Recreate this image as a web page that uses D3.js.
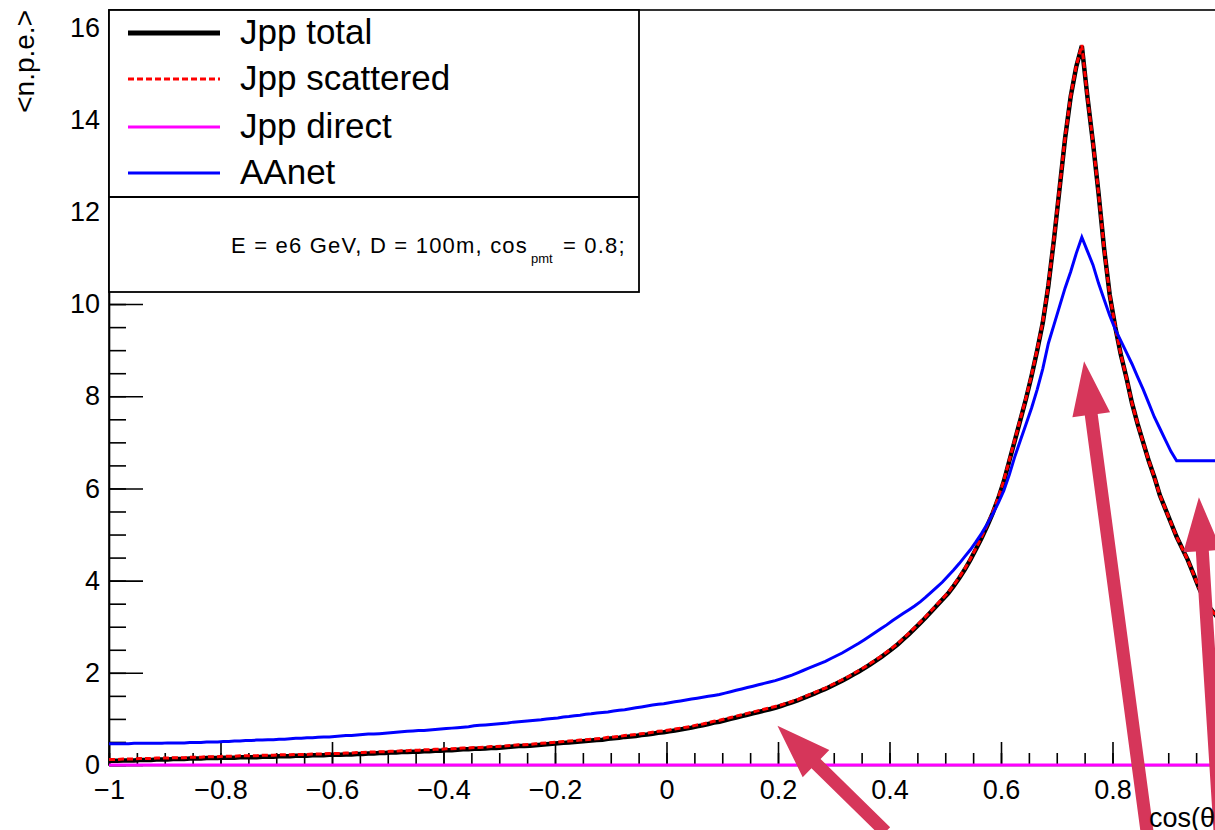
<!DOCTYPE html>
<html>
<head>
<meta charset="utf-8">
<script src="https://cdn.jsdelivr.net/npm/d3@7"></script>
<style>
  html, body { margin: 0; padding: 0; background: #fff; }
  svg { display: block; font-family: "Liberation Sans", Arial, Helvetica, sans-serif; }
</style>
</head>
<body>
<svg id="chart" width="1215" height="830"></svg>
<script>
// ---------------- data ----------------
const binLow = -1.0;
const binWidth = 0.01;   // 200 bins over [-1, 1]

const jppTotal = [
  .09,.09,.10,.10,.10,.11,.11,.11,.12,.12,
  .12,.13,.13,.13,.14,.14,.14,.15,.15,.15,
  .16,.16,.16,.17,.17,.17,.17,.18,.18,.18,
  .19,.19,.19,.20,.20,.20,.21,.21,.21,.22,
  .22,.22,.23,.23,.24,.24,.25,.25,.26,.26,
  .27,.27,.28,.28,.29,.29,.30,.30,.31,.31,
  .32,.32,.33,.34,.34,.35,.35,.36,.37,.37,
  .38,.39,.40,.41,.41,.42,.43,.44,.45,.46,
  .47,.48,.49,.50,.51,.52,.53,.54,.55,.57,
  .58,.59,.61,.62,.63,.65,.66,.68,.70,.71,
  .73,.75,.77,.79,.81,.84,.86,.89,.92,.94,
  .97,1.00,1.03,1.06,1.09,1.12,1.15,1.18,1.21,1.24,
  1.28,1.32,1.36,1.40,1.45,1.50,1.55,1.60,1.65,1.71,
  1.77,1.83,1.89,1.96,2.03,2.10,2.18,2.26,2.34,2.43,
  2.52,2.62,2.73,2.84,2.96,3.08,3.20,3.33,3.46,3.59,
  3.72,3.88,4.05,4.24,4.45,4.68,4.92,5.18,5.46,5.78,
  6.15,6.60,7.05,7.50,7.95,8.45,9.00,9.60,10.40,11.40,
  12.50,13.60,14.50,15.15,15.60,14.50,13.50,12.40,11.20,10.20,
  9.50,8.90,8.40,7.85,7.40,7.00,6.60,6.25,5.85,5.55,
  5.25,4.95,4.70,4.45,4.15,3.85,3.58,3.40,3.25,3.10
];

const jppScattered = [
  .12,.12,.13,.13,.13,.14,.14,.14,.15,.15,
  .15,.16,.16,.16,.17,.17,.17,.18,.18,.18,
  .19,.19,.19,.20,.20,.20,.20,.21,.21,.21,
  .22,.22,.22,.23,.23,.23,.24,.24,.24,.25,
  .25,.25,.26,.26,.27,.27,.28,.28,.29,.29,
  .30,.30,.31,.31,.32,.32,.33,.33,.34,.34,
  .35,.35,.36,.37,.37,.38,.38,.39,.40,.40,
  .41,.42,.43,.44,.44,.45,.46,.47,.48,.49,
  .50,.51,.52,.53,.54,.55,.56,.57,.58,.60,
  .61,.62,.64,.65,.66,.68,.69,.71,.73,.74,
  .76,.78,.80,.82,.84,.87,.89,.92,.95,.97,
  1.00,1.03,1.06,1.09,1.12,1.15,1.18,1.21,1.24,1.27,
  1.30,1.34,1.38,1.42,1.47,1.52,1.57,1.62,1.67,1.73,
  1.79,1.85,1.91,1.98,2.05,2.12,2.20,2.28,2.36,2.45,
  2.54,2.64,2.75,2.86,2.98,3.10,3.22,3.35,3.48,3.61,
  3.74,3.90,4.07,4.26,4.47,4.70,4.94,5.20,5.48,5.80,
  6.17,6.62,7.07,7.52,7.97,8.47,9.02,9.62,10.42,11.42,
  12.52,13.62,14.52,15.17,15.62,14.50,13.50,12.40,11.20,10.20,
  9.50,8.90,8.40,7.85,7.40,7.00,6.60,6.25,5.85,5.55,
  5.25,4.95,4.70,4.45,4.15,3.85,3.58,3.40,3.25,3.10
];

const jppDirect = [
  0,0,0,0,0,0,0,0,0,0, 0,0,0,0,0,0,0,0,0,0,
  0,0,0,0,0,0,0,0,0,0, 0,0,0,0,0,0,0,0,0,0,
  0,0,0,0,0,0,0,0,0,0, 0,0,0,0,0,0,0,0,0,0,
  0,0,0,0,0,0,0,0,0,0, 0,0,0,0,0,0,0,0,0,0,
  0,0,0,0,0,0,0,0,0,0, 0,0,0,0,0,0,0,0,0,0,
  0,0,0,0,0,0,0,0,0,0, 0,0,0,0,0,0,0,0,0,0,
  0,0,0,0,0,0,0,0,0,0, 0,0,0,0,0,0,0,0,0,0,
  0,0,0,0,0,0,0,0,0,0, 0,0,0,0,0,0,0,0,0,0,
  0,0,0,0,0,0,0,0,0,0, 0,0,0,0,0,0,0,0,0,0,
  0,0,0,0,0,0,0,0,0,0, 0,0,0,0,0,0,0,0,0,0
];

const aanet = [
  .46,.46,.46,.46,.47,.47,.47,.47,.47,.47,
  .48,.48,.48,.48,.49,.49,.49,.50,.50,.50,
  .51,.51,.52,.52,.53,.53,.54,.54,.55,.55,
  .56,.56,.57,.58,.58,.59,.59,.60,.61,.61,
  .62,.63,.64,.64,.65,.66,.67,.67,.68,.69,
  .70,.71,.72,.73,.74,.75,.75,.76,.77,.78,
  .79,.80,.81,.82,.83,.85,.86,.87,.88,.89,
  .90,.91,.93,.94,.95,.96,.97,.98,1.00,1.01,
  1.02,1.04,1.05,1.07,1.08,1.10,1.11,1.13,1.14,1.15,
  1.17,1.19,1.20,1.22,1.24,1.26,1.28,1.30,1.32,1.33,
  1.35,1.37,1.39,1.41,1.43,1.45,1.47,1.49,1.51,1.53,
  1.56,1.59,1.62,1.65,1.68,1.71,1.74,1.77,1.80,1.83,
  1.87,1.91,1.95,2.00,2.05,2.10,2.15,2.20,2.25,2.31,
  2.37,2.43,2.50,2.57,2.64,2.72,2.80,2.88,2.96,3.04,
  3.13,3.21,3.29,3.37,3.45,3.54,3.64,3.75,3.86,3.97,
  4.10,4.23,4.37,4.52,4.67,4.84,5.02,5.22,5.44,5.68,
  5.95,6.30,6.70,7.05,7.40,7.75,8.15,8.60,9.15,9.55,
  9.95,10.35,10.70,11.10,11.45,11.15,10.85,10.45,10.10,9.75,
  9.45,9.20,8.95,8.70,8.42,8.15,7.85,7.55,7.30,7.05,
  6.80,6.60,6.60,6.60,6.60,6.60,6.60,6.60,6.60,6.60
];

const xTickValues = [-1, -0.8, -0.6, -0.4, -0.2, 0, 0.2, 0.4, 0.6, 0.8];
const xTickLabels = ["\u22121", "\u22120.8", "\u22120.6", "\u22120.4", "\u22120.2", "0", "0.2", "0.4", "0.6", "0.8"];
const yTickValues = [0, 2, 4, 6, 8, 10, 12, 14, 16];
const yTickLabels = ["0", "2", "4", "6", "8", "10", "12", "14", "16"];

const legendNames = ["Jpp total", "Jpp scattered", "Jpp direct", "AAnet"];
const infoText = ["E = e6 GeV, D = 100m, cos", "pmt", " = 0.8;"];
const xTitle = "cos(\u03b8";
const yTitle = "<n.p.e.>";

// annotation arrows (tail -> tip) in data coordinates
const arrowTails = [[0.393, -1.45], [0.862, -1.45], [0.993, -1.45]];
const arrowTips  = [[0.199, 0.85], [0.749, 8.76], [0.955, 5.81]];

// ---------------- drawing ----------------
const svg = d3.select("#chart");
const x = d3.scaleLinear().domain([-1, 1]).range([109, 1224]);
const y = d3.scaleLinear().domain([0, 16.38]).range([765, 10]);

function histPoints(vals) {
  const pts = [[binLow, vals[0]]];
  vals.forEach((v, i) => pts.push([binLow + (i + 0.5) * binWidth, v]));
  pts.push([binLow + vals.length * binWidth, vals[vals.length - 1]]);
  return pts;
}
const histLine = d3.line().x(d => x(d[0])).y(d => y(d[1])).curve(d3.curveLinear);

// frame
svg.append("rect").attr("x", x(-1)).attr("y", y(16.38))
  .attr("width", x(1) - x(-1)).attr("height", y(0) - y(16.38))
  .attr("fill", "none").attr("stroke", "#000").attr("stroke-width", 1.6);

// y axis: minor, then major
const yMinor = d3.range(0, 16.4, 0.5);
svg.append("g").attr("transform", `translate(${x(-1)},0)`)
  .call(d3.axisLeft(y).tickValues(yMinor).tickSize(-17).tickSizeOuter(0).tickFormat(""))
  .call(g => g.select(".domain").remove())
  .call(g => g.selectAll("line").attr("stroke", "#000").attr("stroke-width", 1.6));
svg.append("g").attr("transform", `translate(${x(-1)},0)`)
  .call(d3.axisLeft(y).tickValues(yTickValues).tickSize(-34).tickSizeOuter(0).tickPadding(9)
    .tickFormat((d, i) => yTickLabels[i]))
  .call(g => g.select(".domain").attr("stroke", "#000").attr("stroke-width", 1.6))
  .call(g => g.selectAll("line").attr("stroke", "#000").attr("stroke-width", 1.6))
  .call(g => g.selectAll("text").attr("font-size", 27).attr("fill", "#000")
    .attr("font-family", "Liberation Sans, Arial, sans-serif"));

// x axis
const xMinor = d3.range(-1, 1.001, 0.05);
svg.append("g").attr("transform", `translate(0,${y(0)})`)
  .call(d3.axisBottom(x).tickValues(xMinor).tickSize(-12).tickSizeOuter(0).tickFormat(""))
  .call(g => g.select(".domain").remove())
  .call(g => g.selectAll("line").attr("stroke", "#000").attr("stroke-width", 1.6));
svg.append("g").attr("transform", `translate(0,${y(0)})`)
  .call(d3.axisBottom(x).tickValues(xTickValues).tickSize(-23).tickSizeOuter(0).tickPadding(15)
    .tickFormat((d, i) => xTickLabels[i]))
  .call(g => g.select(".domain").attr("stroke", "#000").attr("stroke-width", 1.6))
  .call(g => g.selectAll("line").attr("stroke", "#000").attr("stroke-width", 1.6))
  .call(g => g.selectAll("text").attr("font-size", 27).attr("fill", "#000")
    .attr("font-family", "Liberation Sans, Arial, sans-serif"));
// major tick at x = 1 (outside the visible area, as in the reference)
svg.append("line").attr("x1", x(1)).attr("x2", x(1)).attr("y1", y(0)).attr("y2", y(0) - 23)
  .attr("stroke", "#000").attr("stroke-width", 1.6);

// y axis title
svg.append("text").attr("transform", `translate(34,10) rotate(-90)`)
  .attr("text-anchor", "end").attr("font-size", 28).text(yTitle);

// histograms
const plot = svg.append("g");
plot.append("path").attr("d", histLine(histPoints(jppTotal)))
  .attr("fill", "none").attr("stroke", "#000").attr("stroke-width", 4.5)
  .attr("stroke-linejoin", "miter");
plot.append("path").attr("d", histLine(histPoints(jppScattered)))
  .attr("fill", "none").attr("stroke", "#ff0000").attr("stroke-width", 3)
  .attr("stroke-dasharray", "6,3");
plot.append("path").attr("d", histLine(histPoints(aanet)))
  .attr("fill", "none").attr("stroke", "#0000ff").attr("stroke-width", 3);
plot.append("path").attr("d", histLine(histPoints(jppDirect)))
  .attr("fill", "none").attr("stroke", "#ff00ff").attr("stroke-width", 3);

// legend
const lg = svg.append("g");
lg.append("rect").attr("x", 109).attr("y", 10).attr("width", 530).attr("height", 282)
  .attr("fill", "#fff").attr("stroke", "#000").attr("stroke-width", 1.8);
lg.append("line").attr("x1", 109).attr("x2", 639).attr("y1", 197).attr("y2", 197)
  .attr("stroke", "#000").attr("stroke-width", 1.8);
const legendStyles = [
  { color: "#000", width: 5, dash: null },
  { color: "#ff0000", width: 3, dash: "6,3" },
  { color: "#ff00ff", width: 3, dash: null },
  { color: "#0000ff", width: 3, dash: null }
];
const legendRowY = [33, 79, 127, 173];
legendNames.forEach((name, i) => {
  const l = lg.append("line").attr("x1", 128).attr("x2", 220)
    .attr("y1", legendRowY[i]).attr("y2", legendRowY[i])
    .attr("stroke", legendStyles[i].color).attr("stroke-width", legendStyles[i].width);
  if (legendStyles[i].dash) l.attr("stroke-dasharray", legendStyles[i].dash);
  lg.append("text").attr("x", 240).attr("y", legendRowY[i] + 11).attr("font-size", 35)
    .text(name);
});
const info = lg.append("text").attr("x", 231).attr("y", 253).attr("font-size", 22)
  .attr("letter-spacing", 1.2);
info.append("tspan").text(infoText[0]);
info.append("tspan").attr("font-size", 13).attr("dy", 10).attr("dx", 3).attr("letter-spacing", 0).text(infoText[1]);
info.append("tspan").attr("dy", -10).attr("dx", 3).text(infoText[2]);

// annotation arrows
const arrowColor = "#d6365a";
arrowTails.forEach((t, i) => {
  const p0 = [x(t[0]), y(t[1])];
  const p1 = [x(arrowTips[i][0]), y(arrowTips[i][1])];
  const dx = p1[0] - p0[0], dy = p1[1] - p0[1];
  const len = Math.hypot(dx, dy);
  const ux = dx / len, uy = dy / len, nx = -uy, ny = ux;
  const headLen = 54, headHalf = 19, shaftHalf = 6.5;
  const b = [p1[0] - ux * headLen, p1[1] - uy * headLen];
  const pts = [
    [p0[0] + nx * shaftHalf, p0[1] + ny * shaftHalf],
    [b[0] + nx * shaftHalf, b[1] + ny * shaftHalf],
    [b[0] + nx * headHalf, b[1] + ny * headHalf],
    p1,
    [b[0] - nx * headHalf, b[1] - ny * headHalf],
    [b[0] - nx * shaftHalf, b[1] - ny * shaftHalf],
    [p0[0] - nx * shaftHalf, p0[1] - ny * shaftHalf]
  ];
  svg.append("polygon").attr("points", pts.map(p => p.join(",")).join(" "))
    .attr("fill", arrowColor);
});

// x axis title (drawn last, to the right of the arrow shaft)
svg.append("text").attr("x", 1149).attr("y", 827).attr("font-size", 27).text(xTitle);
</script>
</body>
</html>
